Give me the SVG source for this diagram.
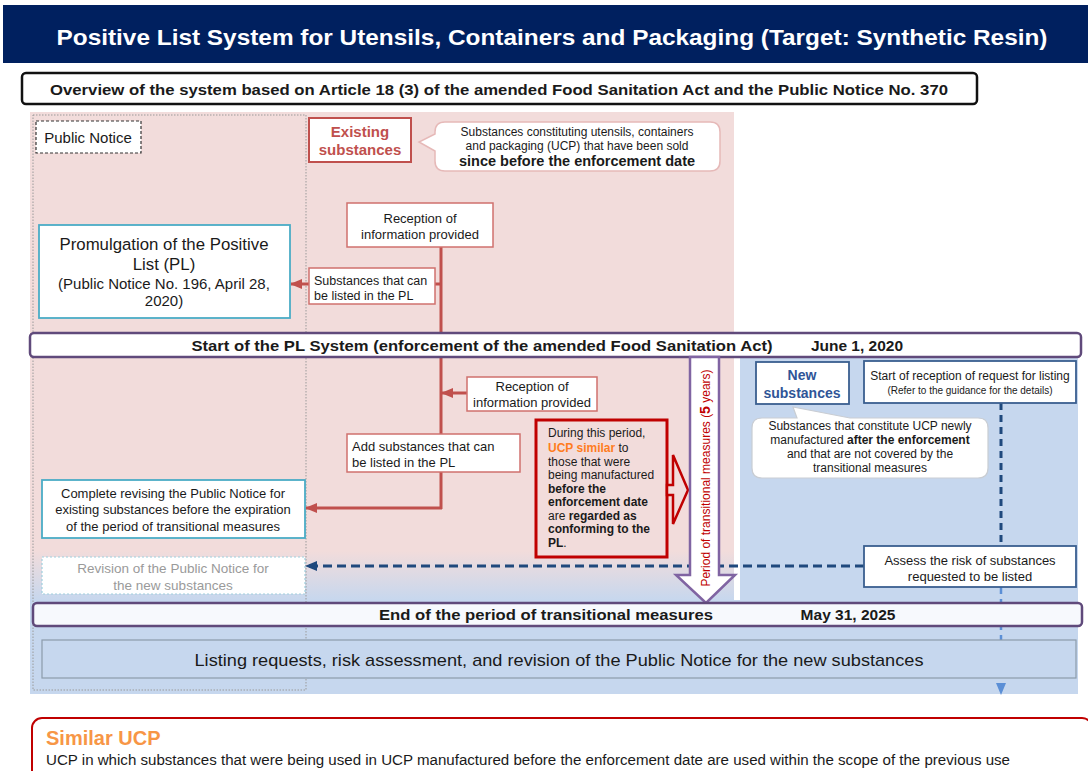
<svg xmlns="http://www.w3.org/2000/svg" width="1088" height="771" viewBox="0 0 1088 771">
<defs>
<linearGradient id="pb" x1="0" y1="0" x2="0" y2="1">
<stop offset="0" stop-color="#f2dcdb"/>
<stop offset="1" stop-color="#c6d7ee"/>
</linearGradient>
<marker id="ar" markerUnits="userSpaceOnUse" markerWidth="12" markerHeight="10" refX="11" refY="5" orient="auto" viewBox="0 0 12 10">
<path d="M0,0 L12,5 L0,10 Z" fill="#c0504d"/>
</marker>
<marker id="ab" markerUnits="userSpaceOnUse" markerWidth="12" markerHeight="10" refX="11" refY="5" orient="auto" viewBox="0 0 12 10">
<path d="M0,0 L12,5 L0,10 Z" fill="#1f497d"/>
</marker>
<marker id="al" markerUnits="userSpaceOnUse" markerWidth="12" markerHeight="10" refX="11" refY="5" orient="auto" viewBox="0 0 12 10">
<path d="M0,0 L12,5 L0,10 Z" fill="#5b8fd6"/>
</marker>
<style>
text{font-family:"Liberation Sans",Arial,sans-serif;fill:#1a1a1a}
.c{text-anchor:middle}
.b{font-weight:bold}
.redbox{fill:#fff;stroke:#d0706e;stroke-width:1.5}
.bluebox{fill:#fff;stroke:#4bacc6;stroke-width:1.8}
.navybox{fill:#fff;stroke:#3a5f8f;stroke-width:1.8}
.bar{fill:#fff;stroke:#604a7b;stroke-width:2.5}
.rl{stroke:#c0504d;stroke-width:3;fill:none}
</style>
</defs>

<!-- backgrounds -->
<g id="background">
<rect x="30" y="112" width="704" height="440" fill="#f2dcdb"/>
<rect x="30" y="551" width="704" height="50" fill="url(#pb)"/>
<rect x="30" y="600" width="1048" height="94" fill="#c6d7ee"/>
<rect x="740" y="357" width="338" height="244" fill="#c6d7ee"/>
<rect x="33" y="115" width="273" height="575" fill="none" stroke="#9a9a9a" stroke-width="1" stroke-dasharray="1.5,1.5"/>
</g>

<!-- header -->
<g id="header">
<rect x="3" y="5" width="1085" height="58" fill="#00205f"/>
<text x="552" y="45" class="c b" font-size="22" style="fill:#fff" textLength="991" lengthAdjust="spacingAndGlyphs">Positive List System for Utensils, Containers and Packaging (Target: Synthetic Resin)</text>
</g>

<g id="overview">
<rect x="22" y="73" width="955" height="31" rx="4" fill="#fff" stroke="#111" stroke-width="2.5"/>
<text x="499" y="95" class="c b" font-size="15.5" textLength="898" lengthAdjust="spacingAndGlyphs">Overview of the system based on Article 18 (3) of the amended Food Sanitation Act and the Public Notice No. 370</text>
</g>

<!-- connectors -->
<g id="connectors">
<line x1="441" y1="247" x2="441" y2="509" class="rl"/>
<line x1="441" y1="284" x2="291" y2="284" class="rl" marker-end="url(#ar)"/>
<line x1="442" y1="508" x2="306" y2="508" class="rl" marker-end="url(#ar)"/>
<line x1="467" y1="393" x2="442" y2="393" class="rl" marker-end="url(#ar)"/>
<line x1="864" y1="566" x2="306" y2="566" stroke="#1f497d" stroke-width="3" stroke-dasharray="9,5" marker-end="url(#ab)"/>
<line x1="1001" y1="403" x2="1001" y2="546" stroke="#1f497d" stroke-width="3" stroke-dasharray="7,5"/>
<line x1="1001" y1="587" x2="1001" y2="694" stroke="#5b8fd6" stroke-width="2.5" stroke-dasharray="7,5" marker-end="url(#al)"/>
</g>

<g id="public-notice">
<rect x="36" y="121" width="105" height="32" fill="#fff" stroke="#333" stroke-width="1.2" stroke-dasharray="3,2"/>
<text x="88" y="143" class="c" font-size="15">Public Notice</text>
</g>

<g id="existing-substances">
<rect x="309" y="118" width="102" height="44" fill="#fff" stroke="#c0504d" stroke-width="2"/>
<text x="360" y="137" class="c b" font-size="15" style="fill:#c0504d">Existing</text>
<text x="360" y="155" class="c b" font-size="15" style="fill:#c0504d">substances</text>
</g>

<g id="existing-callout">
<path d="M445,122 H710 Q720,122 720,132 V161 Q720,171 710,171 H445 Q435,171 435,161 V151 L419,142 L435,134 V132 Q435,122 445,122 Z" fill="#fff" stroke="#e6b9b8" stroke-width="1.5"/>
<text x="577" y="136" class="c" font-size="12">Substances constituting utensils, containers</text>
<text x="577" y="150" class="c" font-size="12">and packaging (UCP) that have been sold</text>
<text x="577" y="166" class="c b" font-size="14.5">since before the enforcement date</text>
</g>

<g id="reception-1">
<rect x="347" y="203" width="146" height="44" class="redbox"/>
<text x="420" y="223" class="c" font-size="13">Reception of</text>
<text x="420" y="239" class="c" font-size="13">information provided</text>
</g>

<g id="substances-listed">
<rect x="309" y="268" width="126" height="36" class="redbox"/>
<text x="314" y="285" font-size="12.5">Substances that can</text>
<text x="314" y="300" font-size="12.5">be listed in the PL</text>
</g>

<g id="promulgation">
<rect x="39" y="225" width="251" height="93" class="bluebox"/>
<text x="164" y="250" class="c" font-size="16.8">Promulgation of the Positive</text>
<text x="164" y="270" class="c" font-size="16.8">List (PL)</text>
<text x="164" y="289" class="c" font-size="15">(Public Notice No. 196, April 28,</text>
<text x="164" y="306" class="c" font-size="15">2020)</text>
</g>

<g id="start-bar">
<rect x="30" y="333" width="1051" height="24" rx="4" class="bar"/>
<text x="482" y="351" class="c b" font-size="15" textLength="581" lengthAdjust="spacingAndGlyphs">Start of the PL System (enforcement of the amended Food Sanitation Act)</text>
<text x="857" y="351" class="c b" font-size="15.5">June 1, 2020</text>
</g>

<g id="reception-2">
<rect x="467" y="377" width="130" height="34" class="redbox"/>
<text x="532" y="391" class="c" font-size="13">Reception of</text>
<text x="532" y="407" class="c" font-size="13">information provided</text>
</g>

<g id="add-substances">
<rect x="347" y="434" width="173" height="38" class="redbox"/>
<text x="352" y="451" font-size="13">Add substances that can</text>
<text x="352" y="467" font-size="13">be listed in the PL</text>
</g>

<g id="during-period">
<rect x="536" y="420" width="131" height="137" fill="#f2dcdb" stroke="#c00000" stroke-width="3"/>
<text x="548" y="437" font-size="12">During this period,</text>
<text x="548" y="452" font-size="12"><tspan font-weight="bold" style="fill:#ff7c22">UCP similar</tspan> to</text>
<text x="548" y="466" font-size="12">those that were</text>
<text x="548" y="479" font-size="12">being manufactured</text>
<text x="548" y="493" font-size="12" class="b">before the</text>
<text x="548" y="506" font-size="12" class="b">enforcement date</text>
<text x="548" y="520" font-size="12">are <tspan font-weight="bold">regarded as</tspan></text>
<text x="548" y="533" font-size="12" class="b">conforming to the</text>
<text x="548" y="547" font-size="12"><tspan font-weight="bold">PL</tspan>.</text>
<polygon points="667,485 673,485 673,455 688,490 673,524 673,495 667,495" fill="#f2dcdb" stroke="#c00000" stroke-width="2.5"/>
</g>

<g id="transition-arrow">
<polygon points="690,357 719,357 719,575 735,575 706,603 676,575 690,575" fill="#fff" stroke="#8064a2" stroke-width="2.5"/>
<text transform="translate(710,478) rotate(-90)" class="c" font-size="12" style="fill:#c00000">Period of transitional measures (<tspan font-weight="bold" font-size="14">5</tspan> years)</text>
</g>

<g id="new-substances">
<rect x="756" y="362" width="93" height="42" class="navybox"/>
<text x="802" y="380" class="c b" font-size="14" style="fill:#2f5597">New</text>
<text x="802" y="398" class="c b" font-size="14" style="fill:#2f5597">substances</text>
</g>

<g id="start-reception">
<rect x="864" y="361" width="212" height="42" class="navybox"/>
<text x="970" y="380" class="c" font-size="12">Start of reception of request for listing</text>
<text x="970" y="394" class="c" font-size="10">(Refer to the guidance for the details)</text>
</g>

<g id="new-callout">
<path d="M762,418 H797 L793,407 L850,418 H978 Q988,418 988,428 V468 Q988,478 978,478 H762 Q752,478 752,468 V428 Q752,418 762,418 Z" fill="#fff" stroke="#c9cdd3" stroke-width="1.2"/>
<text x="870" y="430" class="c" font-size="12">Substances that constitute UCP newly</text>
<text x="870" y="444" class="c" font-size="12">manufactured <tspan font-weight="bold">after the enforcement</tspan></text>
<text x="870" y="458" class="c" font-size="12">and that are not covered by the</text>
<text x="870" y="472" class="c" font-size="12">transitional measures</text>
</g>

<g id="complete-revising">
<rect x="42" y="480" width="263" height="58" class="bluebox"/>
<text x="173" y="498" class="c" font-size="13">Complete revising the Public Notice for</text>
<text x="173" y="514" class="c" font-size="13">existing substances before the expiration</text>
<text x="173" y="531" class="c" font-size="13">of the period of transitional measures</text>
</g>

<g id="assess-risk">
<rect x="864" y="546" width="212" height="41" class="navybox"/>
<text x="970" y="565" class="c" font-size="13">Assess the risk of substances</text>
<text x="970" y="581" class="c" font-size="13">requested to be listed</text>
</g>

<g id="revision-new">
<rect x="42" y="557" width="263" height="37" fill="#fff" stroke="#9fd0de" stroke-width="1.2" stroke-dasharray="2,2"/>
<text x="173" y="573" class="c" font-size="13.5" style="fill:#9a9a9a">Revision of the Public Notice for</text>
<text x="173" y="590" class="c" font-size="13.5" style="fill:#9a9a9a">the new substances</text>
</g>

<g id="end-bar">
<rect x="33" y="603" width="1049" height="23" rx="4" class="bar" style="fill:#f7f9fd"/>
<text x="546" y="620" class="c b" font-size="15" textLength="334" lengthAdjust="spacingAndGlyphs">End of the period of transitional measures</text>
<text x="848" y="620" class="c b" font-size="15.5">May 31, 2025</text>
</g>

<g id="listing">
<rect x="42" y="640" width="1034" height="38" fill="#c6d7ee" stroke="#8c9bab" stroke-width="1.2"/>
<text x="559" y="666" class="c" font-size="17" textLength="729" lengthAdjust="spacingAndGlyphs">Listing requests, risk assessment, and revision of the Public Notice for the new substances</text>
</g>

<g id="similar-ucp">
<rect x="32" y="718" width="1060" height="80" rx="10" fill="#fff" stroke="#c00000" stroke-width="2"/>
<text x="46" y="745" font-size="20" class="b" style="fill:#f79646">Similar UCP</text>
<text x="46" y="765" font-size="14" textLength="964" lengthAdjust="spacingAndGlyphs">UCP in which substances that were being used in UCP manufactured before the enforcement date are used within the scope of the previous use</text>
</g>
</svg>
